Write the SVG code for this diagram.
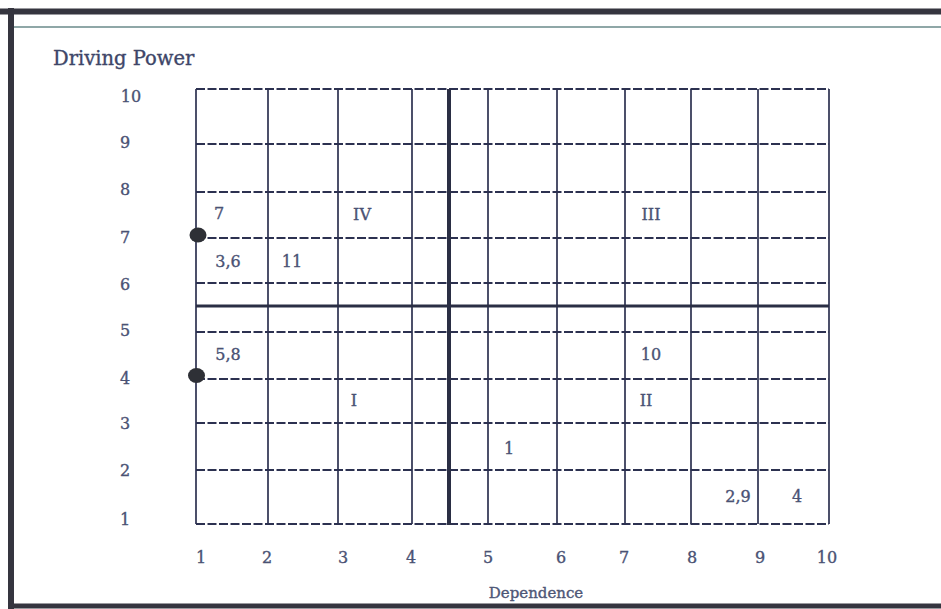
<svg xmlns="http://www.w3.org/2000/svg" width="941" height="609" viewBox="0 0 941 609">
<style>
.t{font-family:"DejaVu Serif","Liberation Serif",serif;fill:#4a5274;stroke:#4a5274;stroke-width:0.35;font-size:16px;text-anchor:middle}
.h{stroke:#2c3150;stroke-width:2.2;stroke-dasharray:9 2.5;fill:none}
.v{stroke:#2c3150;stroke-width:1.7;fill:none}
.k{stroke:#2a2e44;fill:none}
</style>
<rect width="941" height="609" fill="#ffffff"/>
<g id="frame">
<line x1="0" y1="11.5" x2="941" y2="11.5" stroke="#35353f" stroke-width="6"/>
<line x1="14" y1="27" x2="941" y2="27" stroke="#6a8a8a" stroke-width="1.5"/>
<line x1="11" y1="8" x2="11" y2="609" stroke="#35353f" stroke-width="6"/>
<line x1="8" y1="606" x2="941" y2="606" stroke="#35353f" stroke-width="5"/>
</g>
<g id="connectors">
<line class="h" x1="196" y1="89" x2="829" y2="89"/>
<line class="h" x1="196" y1="144" x2="829" y2="144"/>
<line class="h" x1="196" y1="192" x2="829" y2="192"/>
<line class="h" x1="196" y1="238" x2="829" y2="238"/>
<line class="h" x1="196" y1="283" x2="829" y2="283"/>
<line class="h" x1="196" y1="332" x2="829" y2="332"/>
<line class="h" x1="196" y1="379" x2="829" y2="379"/>
<line class="h" x1="196" y1="423" x2="829" y2="423"/>
<line class="h" x1="196" y1="470" x2="829" y2="470"/>
<line class="h" x1="196" y1="524" x2="829" y2="524"/>
<line class="v" x1="196" y1="89" x2="196" y2="524"/>
<line class="v" x1="268" y1="89" x2="268" y2="524"/>
<line class="v" x1="338" y1="89" x2="338" y2="524"/>
<line class="v" x1="412" y1="89" x2="412" y2="524"/>
<line class="v" x1="488" y1="89" x2="488" y2="524"/>
<line class="v" x1="557" y1="89" x2="557" y2="524"/>
<line class="v" x1="625" y1="89" x2="625" y2="524"/>
<line class="v" x1="691" y1="89" x2="691" y2="524"/>
<line class="v" x1="758" y1="89" x2="758" y2="524"/>
<line class="v" x1="829" y1="89" x2="829" y2="524"/>
<line class="k" x1="449" y1="89" x2="449" y2="525" stroke-width="4"/>
<line class="k" x1="196" y1="306" x2="829" y2="306" stroke-width="3"/>
</g>
<g id="dot-7">
<ellipse cx="198" cy="235" rx="8.5" ry="7.5" fill="#2e3036"/>
</g>
<g id="dot-4">
<ellipse cx="196.5" cy="375.5" rx="8.5" ry="7.5" fill="#2e3036"/>
</g>
<g id="title">
<text x="53" y="65" class="t" style="text-anchor:start;font-size:19.5px;fill:#3e4668;stroke:#3e4668">Driving Power</text>
<text x="536" y="598" class="t" style="font-size:15px;fill:#4e5676;stroke:#4e5676">Dependence</text>
</g>
<g id="y-axis">
<text class="t" x="131" y="102">10</text>
<text class="t" x="125" y="148">9</text>
<text class="t" x="125" y="195">8</text>
<text class="t" x="125" y="243">7</text>
<text class="t" x="125" y="290">6</text>
<text class="t" x="125" y="336">5</text>
<text class="t" x="125" y="384">4</text>
<text class="t" x="125" y="429">3</text>
<text class="t" x="125" y="476">2</text>
<text class="t" x="125" y="525">1</text>
</g>
<g id="x-axis">
<text class="t" x="201" y="563">1</text>
<text class="t" x="267" y="563">2</text>
<text class="t" x="343" y="563">3</text>
<text class="t" x="411" y="563">4</text>
<text class="t" x="488" y="563">5</text>
<text class="t" x="561" y="563">6</text>
<text class="t" x="624" y="563">7</text>
<text class="t" x="692" y="563">8</text>
<text class="t" x="760" y="563">9</text>
<text class="t" x="827" y="563">10</text>
</g>
<g id="cells">
<text class="t" x="219" y="219">7</text>
<text class="t" x="362" y="220">IV</text>
<text class="t" x="651" y="220">III</text>
<text class="t" x="228" y="267">3,6</text>
<text class="t" x="292" y="267">11</text>
<text class="t" x="228" y="360">5,8</text>
<text class="t" x="651" y="360">10</text>
<text class="t" x="354" y="406">I</text>
<text class="t" x="646" y="406">II</text>
<text class="t" x="509" y="454">1</text>
<text class="t" x="738" y="502">2,9</text>
<text class="t" x="797" y="502">4</text>
</g>
</svg>
